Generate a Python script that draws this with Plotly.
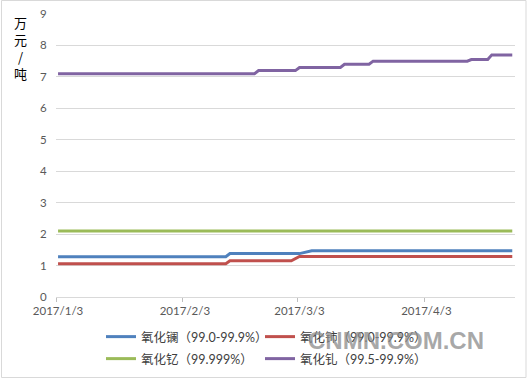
import plotly.graph_objects as go

# ---- data ----
la_dates = ["2017-01-03", "2017-02-13", "2017-02-14", "2017-03-03", "2017-03-06", "2017-04-24"]
la_values = [1.28, 1.28, 1.38, 1.38, 1.47, 1.47]

ce_dates = ["2017-01-03", "2017-02-13", "2017-02-14", "2017-03-01", "2017-03-03", "2017-04-24"]
ce_values = [1.06, 1.06, 1.15, 1.15, 1.29, 1.29]

y_dates = ["2017-01-03", "2017-04-24"]
y_values = [2.1, 2.1]

gd_dates = ["2017-01-03", "2017-02-20", "2017-02-21", "2017-03-02", "2017-03-03",
            "2017-03-13", "2017-03-14", "2017-03-20", "2017-03-21", "2017-04-13",
            "2017-04-14", "2017-04-18", "2017-04-19", "2017-04-24"]
gd_values = [7.1, 7.1, 7.2, 7.2, 7.3, 7.3, 7.4, 7.4, 7.5, 7.5, 7.55, 7.55, 7.7, 7.7]

series_names = ["氧化镧（99.0-99.9%）", "氧化铈（99.0-99.9%）", "氧化钇（99.999%）", "氧化钆（99.5-99.9%）"]
series_colors = ["#4F81BD", "#C0504D", "#9BBB59", "#8064A2"]
series_legend = ["legend", "legend", "legend2", "legend2"]

tick_vals = ["2017-01-03", "2017-02-03", "2017-03-03", "2017-04-03"]
tick_text = ["2017/1/3", "2017/2/3", "2017/3/3", "2017/4/3"]
tick_marks = ["2017-01-02 12:00", "2017-02-02 12:00", "2017-03-02 12:00", "2017-04-02 12:00"]

y_title = "万<br>元<br>/<br>吨"
watermark = "CNMN.COM.CN"

W, H = 530, 379
ML, MR, MT, MB = 56, 15, 14, 82
PW, PH = W - ML - MR, H - MT - MB


def px(x):
    return (x - ML) / PW


def py(y):
    return (H - MB - y) / PH


fig = go.Figure()
all_x = [la_dates, ce_dates, y_dates, gd_dates]
all_y = [la_values, ce_values, y_values, gd_values]
for xs, ys, name, color, lg in zip(all_x, all_y, series_names, series_colors, series_legend):
    fig.add_trace(go.Scatter(x=xs, y=ys, mode="lines", name=name, legend=lg,
                             line=dict(color=color, width=3)))

legend_font = dict(family="Lato, Noto Sans CJK SC, sans-serif", size=12.5, color="#404040")
legend_common = dict(orientation="h", xanchor="left", yanchor="middle",
                     entrywidth=114, entrywidthmode="pixels", font=legend_font,
                     bgcolor="rgba(0,0,0,0)")

fig.update_layout(
    width=W, height=H,
    margin=dict(l=ML, r=MR, t=MT, b=MB, autoexpand=False),
    paper_bgcolor="white", plot_bgcolor="white",
    font=dict(family="Lato, Noto Sans CJK SC, sans-serif", size=12, color="#595959"),
    showlegend=True,
    legend=dict(x=px(101), y=py(337), **legend_common),
    legend2=dict(x=px(101), y=py(359), **legend_common),
    xaxis=dict(type="date", range=["2017-01-02 12:00", "2017-04-24 16:00"],
               tickmode="array", tickvals=tick_vals, ticktext=tick_text,
               ticks="", showgrid=False, showline=True, linecolor="#D9D9D9", linewidth=1,
               tickfont=dict(size=11.5, color="#595959"), ticklabelstandoff=3,
               minor=dict(tickmode="array", tickvals=tick_marks, ticks="outside",
                          ticklen=4, tickcolor="#BFBFBF", showgrid=False),
               fixedrange=True),
    yaxis=dict(range=[0, 9], dtick=1, showgrid=True, gridcolor="#D9D9D9", gridwidth=1,
               zeroline=False, showline=False, ticks="outside", ticklen=6,
               tickcolor="rgba(0,0,0,0)", tickfont=dict(size=11.5, color="#595959"),
               fixedrange=True),
)

fig.add_annotation(text=y_title, xref="paper", yref="paper", x=px(20), y=py(48),
                   xanchor="center", yanchor="middle", showarrow=False,
                   font=dict(family="Noto Sans CJK SC", size=13, color="#000000"),
                   align="center")

fig.add_annotation(text="<b>" + watermark + "</b>", xref="paper", yref="paper",
                   x=px(396), y=py(340), xanchor="center", yanchor="middle", showarrow=False,
                   font=dict(family="Liberation Sans, Arial", size=24, color="rgba(140,140,140,0.75)"))

fig.add_shape(type="rect", xref="paper", yref="paper",
              x0=px(1.5), x1=px(526), y0=py(377.5), y1=py(0.5),
              line=dict(color="#D9D9D9", width=1), fillcolor="rgba(0,0,0,0)", layer="below")

fig.write_html("out.html", config={"displayModeBar": False},
               post_script="document.body.style.margin='0';document.body.style.overflow='hidden';")
